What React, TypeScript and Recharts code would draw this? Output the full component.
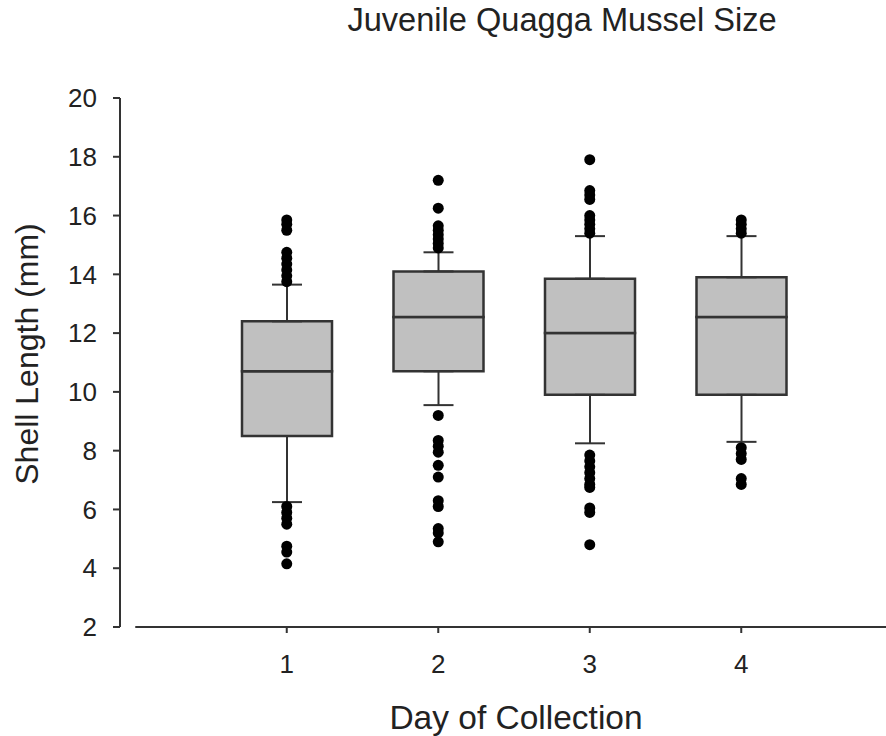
import { Bar, ComposedChart, ErrorBar, ReferenceLine, Scatter, XAxis, YAxis } from "recharts";

// box-plot summary per day of collection (shell length, mm)
const days = [1, 2, 3, 4];
const q1 = [8.5, 10.7, 9.9, 9.9];
const median = [10.7, 12.55, 12.0, 12.55];
const q3 = [12.4, 14.1, 13.85, 13.9];
const whiskerLo = [6.25, 9.55, 8.25, 8.3];
const whiskerHi = [13.65, 14.75, 15.3, 15.3];

// outliers beyond the whiskers
const outliers1 = [15.85, 15.7, 15.5, 14.75, 14.55, 14.35, 14.15, 13.95, 13.75, 6.1, 5.9, 5.7, 5.5, 4.75, 4.55, 4.15];
const outliers2 = [17.2, 16.25, 15.65, 15.5, 15.35, 15.2, 15.05, 14.9, 9.2, 8.35, 8.15, 7.95, 7.5, 7.1, 6.3, 6.1, 5.35, 5.2, 4.9];
const outliers3 = [17.9, 16.85, 16.7, 16.55, 16.0, 15.85, 15.7, 15.55, 15.4, 7.85, 7.65, 7.45, 7.25, 7.05, 6.85, 6.75, 6.05, 5.9, 4.8];
const outliers4 = [15.85, 15.7, 15.55, 15.4, 8.1, 7.9, 7.7, 7.05, 6.85];

const yTicks = [2, 4, 6, 8, 10, 12, 14, 16, 18, 20];

const boxRows = days.map((day, i) => ({
  day,
  base: q1[i],
  lower: median[i] - q1[i],
  upper: q3[i] - median[i],
  loErr: [q1[i] - whiskerLo[i], 0],
  hiErr: [0, whiskerHi[i] - q3[i]],
}));

const pointRows = [outliers1, outliers2, outliers3, outliers4].flatMap((vals, i) =>
  vals.map((v) => ({ day: days[i], v }))
);

const ink = "#333";
const text = "#222";
const font = "'Liberation Sans', Arial, sans-serif";
const pad = { left: 91, right: 69 };

export default function App() {
  return (
    <div style={{ position: "absolute", left: 0, top: 0, width: 886, height: 736, fontFamily: font, color: text }}>
      <div style={{ position: "absolute", left: 562, top: 4, transform: "translateX(-50%)", fontSize: 32.6, lineHeight: 1, whiteSpace: "nowrap" }}>
        Juvenile Quagga Mussel Size
      </div>
      <ComposedChart
        width={886}
        height={736}
        data={boxRows}
        margin={{ top: 98, right: 0, bottom: 49, left: 0 }}
        barCategoryGap={0}
      >
        <XAxis
          xAxisId="cat"
          dataKey="day"
          type="category"
          padding={pad}
          height={60}
          axisLine={false}
          tickLine={{ stroke: ink, strokeWidth: 2 }}
          tickSize={6}
          tickMargin={22}
          tick={{ fontSize: 26, fill: text, fontFamily: font }}
        />
        <XAxis xAxisId="n" dataKey="day" type="number" domain={[0.5, 4.5]} padding={pad} hide />
        <YAxis
          domain={[2, 20]}
          ticks={yTicks}
          allowDataOverflow
          width={120}
          axisLine={{ stroke: ink, strokeWidth: 2 }}
          tickLine={{ stroke: ink, strokeWidth: 2 }}
          tickSize={7}
          tickMargin={16}
          tick={{ fontSize: 26, fill: text, fontFamily: font }}
        />
        <Bar xAxisId="cat" dataKey="base" stackId="box" fill="transparent" barSize={90} isAnimationActive={false}>
          <ErrorBar dataKey="loErr" direction="y" width={15} stroke={ink} strokeWidth={2} />
        </Bar>
        <Bar xAxisId="cat" dataKey="lower" stackId="box" fill="#c0c0c0" stroke={ink} strokeWidth={2.5} barSize={90} isAnimationActive={false} />
        <Bar xAxisId="cat" dataKey="upper" stackId="box" fill="#c0c0c0" stroke={ink} strokeWidth={2.5} barSize={90} isAnimationActive={false}>
          <ErrorBar dataKey="hiErr" direction="y" width={15} stroke={ink} strokeWidth={2} />
        </Bar>
        <ReferenceLine
          xAxisId="n"
          segment={[{ x: 0, y: 2 }, { x: 5, y: 2 }]}
          ifOverflow="visible"
          stroke={ink}
          strokeWidth={2}
        />
        <Scatter
          xAxisId="n"
          data={pointRows}
          dataKey="v"
          isAnimationActive={false}
          shape={(p: any) => <circle cx={p.cx} cy={p.cy} r={5.5} fill="#000" />}
        />
      </ComposedChart>
      <div style={{ position: "absolute", left: 516, top: 701, transform: "translateX(-50%)", fontSize: 33.5, lineHeight: 1, whiteSpace: "nowrap" }}>
        Day of Collection
      </div>
      <div
        style={{
          position: "absolute",
          left: 27,
          top: 354,
          transform: "translate(-50%, -50%) rotate(-90deg)",
          fontSize: 32,
          lineHeight: 1,
          whiteSpace: "nowrap",
        }}
      >
        Shell Length (mm)
      </div>
    </div>
  );
}
